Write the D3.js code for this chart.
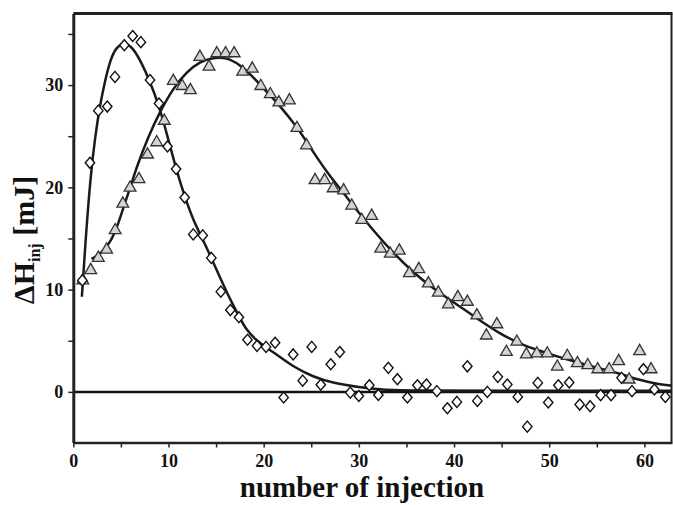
<!DOCTYPE html>
<html><head><meta charset="utf-8">
<script src="https://cdn.jsdelivr.net/npm/d3@7"></script>
<style>body{margin:0;background:#fff}svg{display:block}</style>
</head><body>
<script>
// Diamonds (open) series
const diamondX = [0.95,1.75,2.63,3.57,4.38,5.36,6.24,7.1,8.06,9.0,9.9,10.8,11.7,12.6,13.6,14.5,15.5,16.5,17.4,18.3,19.3,20.25,21.2,22.1,23.1,24.1,25.05,26.0,27.05,28.0,29.1,30.0,31.1,32.05,33.1,34.05,35.1,36.15,37.1,38.2,39.3,40.3,41.4,42.45,43.5,44.6,45.6,46.7,47.7,48.8,49.9,50.96,52.1,53.2,54.3,55.4,56.5,57.6,58.7,59.9,61.05,62.2];
const diamondY = [10.9,22.4,27.5,27.9,30.8,33.9,34.8,34.2,30.5,28.2,24.0,21.8,19.0,15.4,15.3,13.1,9.8,8.0,7.3,5.1,4.5,4.4,4.8,-0.55,3.66,1.1,4.4,0.7,2.7,3.9,-0.07,-0.4,0.65,-0.3,2.35,1.24,-0.55,0.65,0.72,0.07,-1.6,-0.98,2.5,-0.88,0.0,1.47,0.72,-0.49,-3.4,0.88,-1.04,0.65,0.92,-1.24,-1.4,-0.32,-0.32,1.37,0.07,2.22,0.23,-0.49];
// Triangles (grey) series
const triX = [1.0,1.83,2.63,3.5,4.4,5.2,5.96,6.9,7.8,8.76,9.56,10.5,11.45,12.3,13.3,14.26,15.07,16.0,16.9,17.8,18.8,19.7,20.7,21.6,22.7,23.5,24.5,25.4,26.4,27.3,28.4,29.25,30.3,31.35,32.3,33.3,34.25,35.3,36.3,37.3,38.35,39.4,40.4,41.4,42.4,43.4,44.5,45.5,46.6,47.6,48.7,49.8,50.85,51.9,52.96,54.05,55.1,56.3,57.3,58.4,59.5,60.7];
const triY = [11.0,12.0,13.2,14.0,15.9,18.5,20.06,20.9,23.3,24.5,26.6,30.5,30.0,29.6,32.85,31.9,33.2,33.2,33.2,31.4,31.7,30.0,29.2,28.4,28.6,25.9,24.2,20.8,20.8,20.0,19.8,18.3,16.9,17.3,14.1,13.6,13.9,11.7,12.1,10.7,9.8,8.65,9.36,8.9,7.57,5.6,6.7,4.0,5.0,3.76,3.85,3.85,2.55,3.6,2.9,2.7,2.3,2.3,3.1,1.3,4.08,2.3];
// Fit curves
const fitDX = [0.9,1.3,1.8,2.3,2.8,3.3,3.9,4.5,5.4,6.3,7.1,8.0,9.0,9.9,10.8,11.7,12.6,13.6,14.5,15.5,16.5,17.4,18.2,19.3,20.3,21.0,23.1,25.2,27.3,30.1,32.2,36,45,62.9];
const fitDY = [9.3,15,21,25,28,30.3,32.5,33.7,34.25,33.6,32.3,30.5,28.0,25.0,21.8,19.1,16.8,14.9,13.1,11.0,9.0,7.4,6.0,5.0,4.3,3.9,2.45,1.47,0.85,0.45,0.2,0.12,0.1,0.1];
const fitTX = [1.9,2.7,3.5,4.4,5.25,6.1,6.66,7.88,9.1,10.5,11.9,13.3,14.7,16.1,17.5,18.9,20.3,21.7,23.5,24.9,26.6,28.7,29.4,31.5,33.6,35.7,37.8,39.9,42.7,44.8,46.9,49.0,51.1,53.2,55.3,57.4,59.5,61.6,62.9];
const fitTY = [13.0,13.4,14.1,15.5,18,20.3,22,24.95,27.4,29.7,31.3,32.3,32.7,32.7,32.0,30.8,29.35,28.0,25.9,23.9,21.5,19.1,18.2,15.8,13.6,11.7,10.1,8.8,7.0,5.7,4.7,4.0,3.4,2.8,2.3,1.8,1.14,0.72,0.6];
const xTicks = [0,5,10,15,20,25,30,35,40,45,50,55,60];
const yTicks = [0,5,10,15,20,25,30,35];

const W = 673, H = 505;
const m = {left:73.3, right:1, top:13.5, bottom:62.5};
const svg = d3.select("body").append("svg").attr("width",W).attr("height",H);
const x = d3.scaleLinear().domain([0,62.9]).range([m.left, W-m.right]);
const y = d3.scaleLinear().domain([-4.95,37]).range([H-m.bottom, m.top]);
const font = "'Liberation Serif','Times New Roman',serif";

// zero line
svg.append("line").attr("x1",x(0)).attr("x2",x(62.9)).attr("y1",y(0)).attr("y2",y(0))
  .attr("stroke","#111").attr("stroke-width",2.5);

// frame top & right
svg.append("line").attr("x1",m.left).attr("x2",W-m.right+0.5).attr("y1",m.top).attr("y2",m.top)
  .attr("stroke","#222").attr("stroke-width",3);
svg.append("line").attr("x1",W-m.right-0.5).attr("x2",W-m.right-0.5).attr("y1",m.top).attr("y2",H-m.bottom)
  .attr("stroke","#222").attr("stroke-width",2);

// axes
const xa = svg.append("g").attr("transform",`translate(0,${H-m.bottom})`)
  .call(d3.axisBottom(x).tickValues(xTicks).tickSize(5).tickSizeOuter(0).tickPadding(7)
    .tickFormat(d => d%10===0 ? d : ""));
xa.select(".domain").attr("stroke","#222").attr("stroke-width",2.5);
xa.selectAll(".tick line").attr("stroke","#222").attr("stroke-width",1.5);
xa.selectAll("text").attr("font-family",font).attr("font-weight","bold").attr("font-size",18).attr("fill","#111");

const ya = svg.append("g").attr("transform",`translate(${m.left},0)`)
  .call(d3.axisLeft(y).tickValues(yTicks).tickSize(5).tickSizeOuter(0).tickPadding(5)
    .tickFormat(d => d%10===0 ? d : ""));
ya.select(".domain").attr("stroke","#222").attr("stroke-width",3);
ya.selectAll(".tick line").attr("stroke","#222").attr("stroke-width",1.5);
ya.selectAll("text").attr("font-family",font).attr("font-weight","bold").attr("font-size",18).attr("fill","#111");

// fit curves
const line = d3.line().x(d=>x(d[0])).y(d=>y(d[1])).curve(d3.curveBasis);
svg.append("path").datum(d3.zip(fitTX,fitTY)).attr("d",line).attr("fill","none")
  .attr("stroke","#1a1a1a").attr("stroke-width",2.5);
svg.append("path").datum(d3.zip(fitDX,fitDY)).attr("d",line).attr("fill","none")
  .attr("stroke","#1a1a1a").attr("stroke-width",2.5);

// triangles
const tri = d3.symbol().type(d3.symbolTriangle).size(60);
svg.append("g").selectAll("path").data(d3.zip(triX,triY)).join("path")
  .attr("d",tri).attr("transform",d=>`translate(${x(d[0])},${y(d[1])+1})`)
  .attr("fill","#d4d4d4").attr("stroke","#333").attr("stroke-width",1.3);

// diamonds
svg.append("g").selectAll("path").data(d3.zip(diamondX,diamondY)).join("path")
  .attr("d",d=>"M0,-5.5L4.7,0L0,5.5L-4.7,0Z").attr("transform",d=>`translate(${x(d[0])},${y(d[1])})`)
  .attr("fill","#fff").attr("stroke","#111").attr("stroke-width",1.4);

// axis titles
svg.append("text").attr("x",362).attr("y",497).attr("text-anchor","middle")
  .attr("font-family",font).attr("font-weight","bold").attr("font-size",29).attr("fill","#111")
  .text("number of injection");

const yt = svg.append("text").attr("transform",`translate(34,240) rotate(-90)`).attr("text-anchor","middle")
  .attr("font-family",font).attr("font-weight","bold").attr("font-size",30).attr("fill","#111");
yt.append("tspan").text("ΔH");
yt.append("tspan").attr("font-size",16).attr("dy",6).text("inj");
yt.append("tspan").attr("dy",-6).text(" [mJ]");
</script>
</body></html>
